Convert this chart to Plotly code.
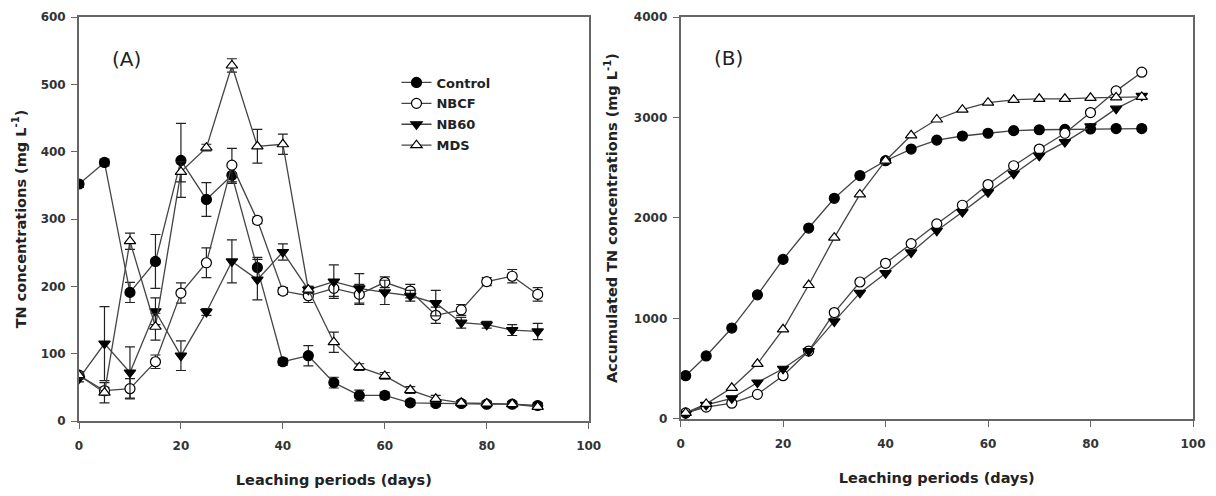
import plotly.graph_objects as go

days_a = [0, 5, 10, 15, 20, 25, 30, 35, 40, 45, 50, 55, 60, 65, 70, 75, 80, 85, 90]
days_b = [1, 5, 10, 15, 20, 25, 30, 35, 40, 45, 50, 55, 60, 65, 70, 75, 80, 85, 90]

# Panel A: TN concentrations (mg/L)
control_a = [352, 384, 191, 237, 387, 329, 365, 228, 88, 97, 57, 38, 38, 27, 26, 26, 25, 25, 23]
control_a_err = [5, 5, 15, 40, 55, 25, 12, 15, 5, 15, 8, 8, 5, 4, 4, 4, 4, 4, 4]
nbcf_a = [68, 45, 48, 88, 190, 235, 380, 298, 193, 186, 197, 188, 206, 193, 157, 165, 207, 215, 188]
nbcf_a_err = [5, 5, 15, 10, 15, 22, 25, 5, 5, 10, 12, 15, 8, 10, 12, 8, 6, 10, 10]
nb60_a = [63, 115, 72, 163, 97, 162, 237, 210, 251, 195, 207, 197, 191, 186, 175, 146, 143, 135, 133]
nb60_a_err = [5, 55, 38, 20, 22, 5, 32, 30, 12, 5, 25, 22, 18, 8, 19, 8, 5, 8, 12]
mds_a = [68, 42, 267, 140, 370, 406, 528, 408, 411, 195, 117, 80, 67, 46, 33, 27, 26, 25, 21]
mds_a_err = [5, 15, 12, 20, 15, 5, 10, 25, 15, 5, 15, 5, 5, 5, 5, 3, 3, 3, 3]

# Panel B: accumulated TN concentrations (mg/L)
control_b = [431, 627, 905, 1235, 1588, 1900, 2196, 2422, 2570, 2686, 2775, 2816, 2843, 2869, 2878, 2882, 2886, 2890, 2890]
nbcf_b = [60, 118, 157, 245, 431, 676, 1059, 1363, 1549, 1745, 1941, 2127, 2333, 2520, 2686, 2843, 3049, 3265, 3451]
nb60_b = [50, 140, 206, 363, 500, 676, 971, 1255, 1451, 1657, 1873, 2059, 2255, 2441, 2618, 2755, 2912, 3088, 3216]
mds_b = [60, 150, 310, 549, 892, 1333, 1804, 2235, 2570, 2823, 2980, 3078, 3147, 3176, 3186, 3186, 3196, 3200, 3205]

series_names = ["Control", "NBCF", "NB60", "MDS"]
symbols = ["circle", "circle", "triangle-down", "triangle-up"]
fills = ["black", "white", "black", "white"]

LINE = "#444444"
AX = "#666666"

fig = go.Figure()

a_vals = [(control_a, control_a_err), (nbcf_a, nbcf_a_err), (nb60_a, nb60_a_err), (mds_a, mds_a_err)]
for name, sym, fill, (vals, errs) in zip(series_names, symbols, fills, a_vals):
    fig.add_trace(go.Scatter(
        x=days_a, y=vals, name=name, mode="lines+markers", legendgroup=name,
        line=dict(color=LINE, width=1.3),
        marker=dict(symbol=sym, size=10, color=fill, line=dict(color="black", width=1.2)),
        error_y=dict(type="data", array=errs, visible=True, color="#222", thickness=1.2, width=5),
        xaxis="x", yaxis="y", showlegend=True,
    ))

b_vals = [control_b, nbcf_b, nb60_b, mds_b]
for name, sym, fill, vals in zip(series_names, symbols, fills, b_vals):
    fig.add_trace(go.Scatter(
        x=days_b, y=vals, name=name, mode="lines+markers", legendgroup=name,
        line=dict(color=LINE, width=1.3),
        marker=dict(symbol=sym, size=10, color=fill, line=dict(color="black", width=1.2)),
        xaxis="x2", yaxis="y2", showlegend=False,
    ))

tickfont = dict(family="DejaVu Sans", size=12, color="#333", weight="bold")
titlefont = dict(family="DejaVu Sans", size=14.5, color="#222", weight="bold")

common = dict(showline=True, mirror=True, linecolor=AX, linewidth=1.8,
              ticks="outside", ticklen=6, tickcolor=AX, tickwidth=1.4,
              showgrid=False, zeroline=False, tickfont=tickfont,
              ticklabeloverflow="allow")

fig.update_layout(
    width=1200, height=480,
    margin=dict(l=71, r=9, t=2, b=62),
    paper_bgcolor="white", plot_bgcolor="white",
    xaxis=dict(domain=[0, 0.4575], range=[0, 100], tickvals=[0, 20, 40, 60, 80, 100],
               ticklabelstandoff=7,
               title=dict(text="Leaching periods (days)", font=titlefont, standoff=23),
               anchor="y", **common),
    yaxis=dict(domain=[0, 1], range=[0, 600], tickvals=[0, 100, 200, 300, 400, 500, 600],
               ticklabelstandoff=3,
               title=dict(text="TN concentrations (mg L<sup>-1</sup>)", font=titlefont, standoff=11),
               anchor="x", **common),
    xaxis2=dict(domain=[0.540, 1.0], range=[0, 100], tickvals=[0, 20, 40, 60, 80, 100],
                ticklabelstandoff=7,
                title=dict(text="Leaching periods (days)", font=titlefont, standoff=23),
                anchor="y2", **common),
    yaxis2=dict(domain=[0.005, 1], range=[0, 4000], tickvals=[0, 1000, 2000, 3000, 4000],
                ticklabelstandoff=3,
                title=dict(text="Accumulated TN concentrations (mg L<sup>-1</sup>)", font=titlefont, standoff=13),
                anchor="x2", **common),
    legend=dict(x=0.285, y=0.875, xanchor="left", yanchor="top",
                font=dict(family="DejaVu Sans", size=13, color="#222", weight="bold"),
                bgcolor="rgba(0,0,0,0)", borderwidth=0, tracegroupgap=1),
    annotations=[
        dict(text="(A)", x=9.3, y=538, xref="x", yref="y", showarrow=False,
             font=dict(family="DejaVu Sans", size=20, color="#222")),
        dict(text="(B)", x=9.3, y=3590, xref="x2", yref="y2", showarrow=False,
             font=dict(family="DejaVu Sans", size=20, color="#222")),
    ],
)

fig.write_html("out.html")
